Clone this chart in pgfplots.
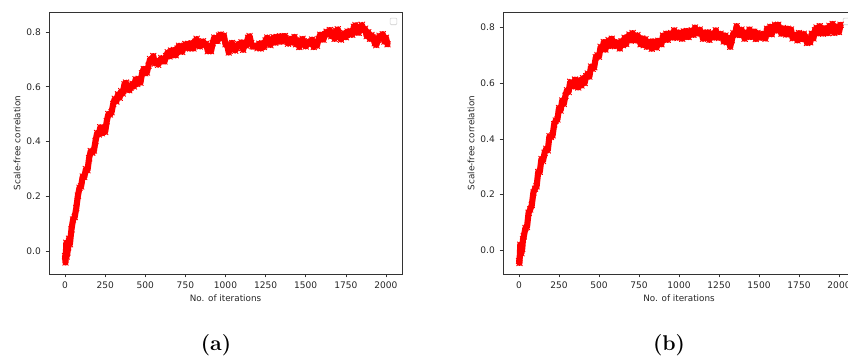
\documentclass[border=0pt]{standalone}
\usepackage{fontspec}
\usepackage{pgfplots}
\pgfplotsset{compat=1.18}
\newfontfamily\dejavu{DejaVu Sans}
\pgfplotsset{
  panel/.style={
    scale only axis, width=264.75pt, height=196.5pt,
    xmin=-100, xmax=2100,
    axis line style={black!80, line width=0.6pt},
    tick align=outside, major tick length=2.6pt,
    tick style={black!80, line width=0.5pt},
    xtick pos=left, ytick pos=left,
    xtick={0,250,...,2000}, ytick={0,0.2,0.4,0.6,0.8},
    /pgf/number format/assume math mode=true,
    xticklabel style={/pgf/number format/1000 sep={}},
    yticklabel style={/pgf/number format/fixed, /pgf/number format/fixed zerofill, /pgf/number format/precision=1},
    tick label style={font=\dejavu\fontsize{6.8}{8}\selectfont, text=black!85},
    label style={font=\dejavu\fontsize{6.6}{8}\selectfont, text=black!85},
    xlabel={No. of iterations}, ylabel={Scale-free correlation},
    x label style={at={(axis description cs:0.5,-0.0916)}, anchor=center},
    y label style={at={(axis description cs:-0.0906,0.5)}, anchor=center},
  },
  band/.style={red, line width=4.6pt, line join=round, line cap=round, mark=x, mark size=3pt, mark options={line width=0.7pt, red}},
}
\pgfplotstableread{
x y
0 -0.018
3 -0.042
8 0.030
10 -0.020
15 -0.005
20 0.014
25 0.045
30 0.025
40 0.079
50 0.115
60 0.124
70 0.157
80 0.202
90 0.231
100 0.236
110 0.272
120 0.270
130 0.299
140 0.295
150 0.339
160 0.365
170 0.359
180 0.367
190 0.402
200 0.431
210 0.426
220 0.452
230 0.430
240 0.449
250 0.435
260 0.474
270 0.500
280 0.499
290 0.507
300 0.537
310 0.556
320 0.546
330 0.572
340 0.560
350 0.584
360 0.575
370 0.609
380 0.615
390 0.594
400 0.587
410 0.597
420 0.611
430 0.601
440 0.627
450 0.610
460 0.629
470 0.615
480 0.649
490 0.665
500 0.649
510 0.652
520 0.677
530 0.701
540 0.691
550 0.712
560 0.685
570 0.694
580 0.680
590 0.694
600 0.705
610 0.694
620 0.692
630 0.712
640 0.726
650 0.711
660 0.732
670 0.715
680 0.734
690 0.715
700 0.739
710 0.750
720 0.734
730 0.727
740 0.747
750 0.756
760 0.741
770 0.757
780 0.740
790 0.759
800 0.740
810 0.764
820 0.775
830 0.754
840 0.747
850 0.762
860 0.766
870 0.751
880 0.757
890 0.730
900 0.744
910 0.730
920 0.759
930 0.780
940 0.769
950 0.767
960 0.787
970 0.791
980 0.776
990 0.787
1000 0.755
1010 0.754
1020 0.725
1030 0.744
1040 0.760
1050 0.744
1060 0.732
1070 0.742
1080 0.756
1090 0.751
1100 0.762
1110 0.735
1120 0.759
1130 0.750
1140 0.779
1150 0.785
1160 0.759
1170 0.747
1180 0.747
1190 0.751
1200 0.741
1210 0.757
1220 0.740
1230 0.759
1240 0.745
1250 0.769
1260 0.780
1270 0.759
1280 0.752
1290 0.772
1300 0.781
1310 0.761
1320 0.782
1330 0.765
1340 0.784
1350 0.765
1360 0.784
1370 0.785
1380 0.769
1390 0.757
1400 0.772
1410 0.776
1420 0.761
1430 0.782
1440 0.755
1450 0.769
1460 0.745
1470 0.769
1480 0.775
1490 0.759
1500 0.747
1510 0.757
1520 0.766
1530 0.756
1540 0.772
1550 0.745
1560 0.764
1570 0.750
1580 0.774
1590 0.790
1600 0.774
1610 0.772
1620 0.792
1630 0.801
1640 0.791
1650 0.807
1660 0.785
1670 0.799
1680 0.775
1690 0.804
1700 0.810
1710 0.784
1720 0.772
1730 0.787
1740 0.796
1750 0.781
1760 0.802
1770 0.790
1780 0.804
1790 0.790
1800 0.819
1810 0.825
1820 0.799
1830 0.797
1840 0.817
1850 0.826
1860 0.806
1870 0.812
1880 0.785
1890 0.799
1900 0.775
1910 0.789
1920 0.780
1930 0.759
1940 0.752
1950 0.772
1960 0.786
1970 0.776
1980 0.792
1990 0.765
2000 0.779
2010 0.755
}\dataA
\pgfplotstableread{
x y
0 -0.038
3 -0.045
8 0.020
10 0.013
15 -0.010
20 0.006
25 0.040
30 0.050
40 0.080
50 0.084
60 0.135
70 0.147
80 0.163
90 0.208
100 0.221
110 0.230
120 0.281
130 0.282
140 0.328
150 0.321
160 0.350
170 0.365
180 0.359
190 0.410
200 0.407
210 0.413
220 0.453
230 0.466
240 0.470
250 0.511
260 0.502
270 0.538
280 0.526
290 0.555
300 0.575
310 0.569
320 0.605
330 0.597
340 0.588
350 0.613
360 0.601
370 0.585
380 0.611
390 0.592
400 0.618
410 0.601
420 0.625
430 0.635
440 0.624
450 0.660
460 0.652
470 0.658
480 0.693
490 0.701
500 0.695
510 0.731
520 0.722
530 0.748
540 0.721
550 0.745
560 0.755
570 0.734
580 0.760
590 0.747
600 0.733
610 0.748
620 0.741
630 0.725
640 0.751
650 0.737
660 0.763
670 0.741
680 0.765
690 0.775
700 0.754
710 0.780
720 0.762
730 0.753
740 0.773
750 0.761
760 0.740
770 0.761
780 0.737
790 0.758
800 0.731
810 0.745
820 0.750
830 0.724
840 0.750
850 0.732
860 0.728
870 0.753
880 0.751
890 0.740
900 0.771
910 0.757
920 0.778
930 0.756
940 0.775
950 0.780
960 0.764
970 0.790
980 0.772
990 0.763
1000 0.783
1010 0.776
1020 0.760
1030 0.786
1040 0.767
1050 0.788
1060 0.766
1070 0.785
1080 0.790
1090 0.774
1100 0.800
1110 0.782
1120 0.778
1130 0.793
1140 0.781
1150 0.760
1160 0.781
1170 0.762
1180 0.783
1190 0.756
1200 0.775
1210 0.780
1220 0.764
1230 0.790
1240 0.772
1250 0.763
1260 0.778
1270 0.771
1280 0.750
1290 0.771
1300 0.747
1310 0.763
1320 0.731
1330 0.755
1340 0.780
1350 0.774
1360 0.805
1370 0.787
1380 0.773
1390 0.793
1400 0.781
1410 0.760
1420 0.781
1430 0.767
1440 0.793
1450 0.766
1460 0.785
1470 0.785
1480 0.759
1490 0.780
1500 0.767
1510 0.763
1520 0.778
1530 0.766
1540 0.760
1550 0.796
1560 0.777
1570 0.803
1580 0.776
1590 0.800
1600 0.810
1610 0.789
1620 0.810
1630 0.792
1640 0.778
1650 0.798
1660 0.791
1670 0.775
1680 0.796
1690 0.777
1700 0.793
1710 0.761
1720 0.770
1730 0.775
1740 0.754
1750 0.780
1760 0.762
1770 0.758
1780 0.778
1790 0.766
1800 0.745
1810 0.761
1820 0.747
1830 0.778
1840 0.761
1850 0.790
1860 0.800
1870 0.779
1880 0.805
1890 0.787
1900 0.778
1910 0.798
1920 0.796
1930 0.780
1940 0.806
1950 0.787
1960 0.813
1970 0.781
1980 0.800
1990 0.805
2000 0.784
2010 0.810
}\dataB
\begin{document}
\begin{tikzpicture}
\useasboundingbox (0,0) rectangle (636pt,267pt);
\begin{axis}[panel, at={(36.75pt,61.5pt)}, anchor=south west, ymin=-0.084, ymax=0.873]
\addplot[band] table[x=x, y=y] {\dataA};
\node[draw=black!20, rounded corners=0.8pt, minimum size=5pt, inner sep=0pt, fill=white] at (rel axis cs:0.976,0.964) {};
\end{axis}
\begin{axis}[panel, at={(377.25pt,61.5pt)}, anchor=south west, width=264pt, ymin=-0.085, ymax=0.856]
\addplot[band] table[x=x, y=y] {\dataB};
\node[draw=black!20, rounded corners=0.8pt, minimum size=5pt, inner sep=0pt, fill=white] at (rel axis cs:0.976,0.964) {};
\end{axis}
\node[font=\bfseries\fontsize{16}{18}\selectfont, anchor=base] at (162pt,4.2pt) {(a)};
\node[font=\bfseries\fontsize{16}{18}\selectfont, anchor=base] at (501.75pt,4.2pt) {(b)};
\end{tikzpicture}
\end{document}
